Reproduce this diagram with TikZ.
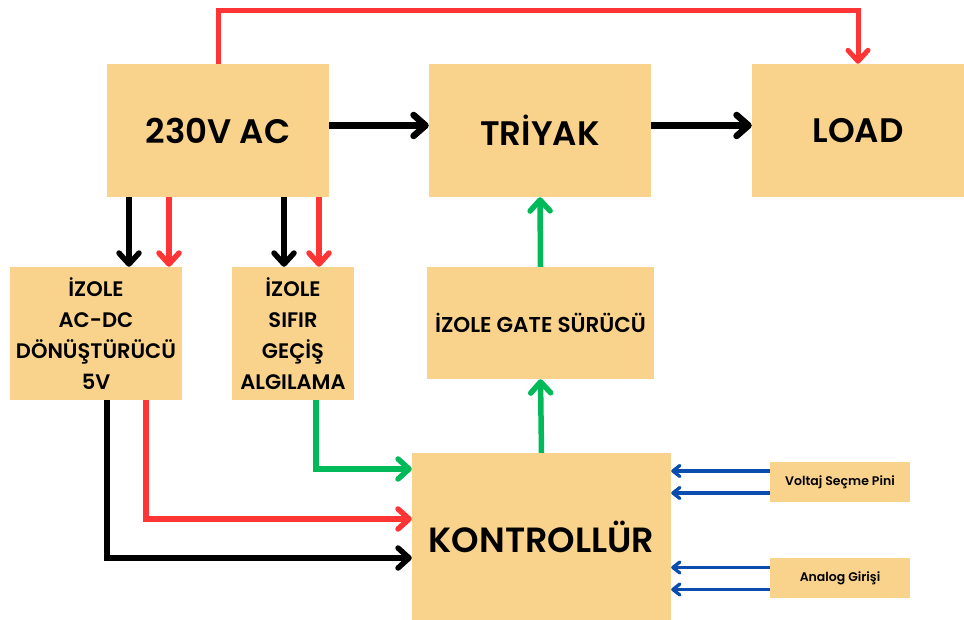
\documentclass[tikz,border=0pt]{standalone}
\usepackage{fontspec}
\setmainfont{Poppins}[UprightFont=* SemiBold, BoldFont=* SemiBold]
\usetikzlibrary{arrows.meta}
\definecolor{peach}{HTML}{F9D38C}
\definecolor{live}{HTML}{FF3535}
\definecolor{signal}{HTML}{00BA5A}
\definecolor{pinblue}{HTML}{0B4DAE}

\begin{document}
\begin{tikzpicture}[
  x=1pt, y=1pt,
  block/.style={rectangle, fill=peach, inner sep=0pt, align=center},
  title/.style={block, font=\fontsize{34}{40}\selectfont},
  stage/.style={block, font=\fontsize{21}{31}\selectfont},
  tag/.style={block, font=\fontsize{12.5}{15}\selectfont, minimum width=140pt, minimum height=40pt},
  heavy/.style={-{Straight Barb[length=12pt,width=21pt,round]}, line width=6.5pt},
  feed/.style={-{Straight Barb[length=11pt,width=20pt,round]}, line width=5.5pt},
  pinline/.style={-{Straight Barb[length=7pt,width=11pt,round]}, line width=3.3pt, pinblue},
]
\useasboundingbox (0,0) rectangle (964,620);

% ---------- power path ----------
\node[title, minimum width=222pt, minimum height=133pt] (ac)   at (218,489.5) {230V AC};
\node[title, minimum width=222pt, minimum height=133pt] (tri)  at (540,489.5) {TRİYAK};
\node[title, minimum width=212pt, minimum height=133pt] (load) at (858,489.5) {LOAD};

\draw[heavy] ([yshift=5pt]ac.east) -- ([yshift=5pt]tri.west);
\draw[heavy] ([yshift=5pt]tri.east) -- ([yshift=5pt]load.west);
\draw[feed, live, line width=5pt] (ac.north) -- (ac.north |- 0,609) -| (load.north);

% ---------- isolated supply and zero crossing ----------
\node[stage, minimum width=172pt, minimum height=133pt] (acdc)  at (96,286.5)  {İZOLE\\AC-DC\\DÖNÜŞTÜRÜCÜ\\5V};
\node[stage, minimum width=122pt, minimum height=133pt] (sifir) at (293,286.5) {İZOLE\\SIFIR\\GEÇİŞ\\ALGILAMA};

\foreach \x/\c in {129/black, 169/live}
  \draw[feed, \c] (ac.south -| \x,0) -- (acdc.north -| \x,0);
\foreach \x/\c in {284/black, 319/live}
  \draw[feed, \c] (ac.south -| \x,0) -- (sifir.north -| \x,0);

% ---------- controller and gate driver ----------
\node[title, font=\fontsize{35}{40}\selectfont, minimum width=259pt, minimum height=167pt] (kont) at (541.5,83.5) {KONTROLLÜR};
\node[stage, font=\fontsize{21.5}{31}\selectfont, minimum width=227pt, minimum height=112pt] (gate) at (540.5,297) {İZOLE GATE SÜRÜCÜ};

\draw[feed, signal] (kont.north) -- (gate.south);
\draw[feed, signal] (gate.north) -- (tri.south);

\draw[feed, black] (acdc.south -| 107,0) |- (kont.west |- 0,62);
\draw[feed, live]  (acdc.south -| 146,0) |- (kont.west |- 0,101);
\draw[feed, signal] (sifir.south -| 316,0) |- (kont.west |- 0,151);

% ---------- inputs ----------
\node[tag] (volt) at (840,138)  {Voltaj Seçme Pini};
\node[tag] (anlg) at (840,41.5) {Analog Girişi};

\foreach \n in {volt, anlg}
  \foreach \s in {11,-11}
    \draw[pinline] ([yshift=\s pt]\n.west) -- ([yshift=\s pt]\n.west -| kont.east);

\end{tikzpicture}
\end{document}
